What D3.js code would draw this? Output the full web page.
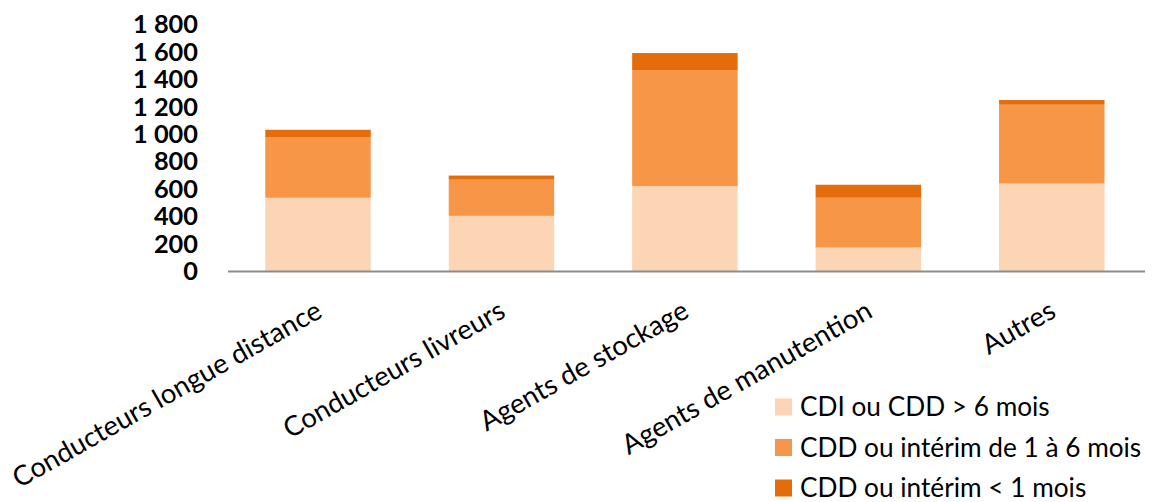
<!DOCTYPE html>
<html>
<head>
<meta charset="utf-8">
<script src="https://cdn.jsdelivr.net/npm/d3@7"></script>
<style>
  html, body { margin: 0; padding: 0; background: #ffffff; }
  svg { display: block; }
  text { font-family: Lato, "Open Sans", sans-serif; fill: #000; }
</style>
</head>
<body>
<svg id="chart" width="1155" height="502"></svg>
<script>
const categories = ["Conducteurs longue distance", "Conducteurs livreurs", "Agents de stockage", "Agents de manutention", "Autres"];
const seriesNames = ["CDI ou CDD > 6 mois", "CDD ou intérim de 1 à 6 mois", "CDD ou intérim < 1 mois"];
const cdiLong = [538, 406, 623, 175, 642];
const cddMid = [440, 264, 847, 363, 575];
const cddShort = [56, 30, 124, 95, 34];
const yTicks = [0, 200, 400, 600, 800, 1000, 1200, 1400, 1600, 1800];
const colors = ["#FCD5B5", "#F79646", "#E46C0A"];

const svg = d3.select("#chart");

const rows = categories.map((c, i) => ({ cat: c, s0: cdiLong[i], s1: cddMid[i], s2: cddShort[i] }));
const stacked = d3.stack().keys(["s0", "s1", "s2"])(rows);

const x = d3.scaleBand().domain(categories).range([226.3, 1143.5]).paddingInner(0.425).paddingOuter(0.2125);
const y = d3.scaleLinear().domain([0, 1800]).range([271.5, 24.8]);

function fitSize(text, weight, target) {
  const t = svg.append("text").attr("font-size", 100).attr("font-weight", weight).text(text);
  const w = t.node().getComputedTextLength();
  t.remove();
  return 100 * target / w;
}
const tickFs = fitSize("1 800", "bold", 65);
const legFs = (fitSize("CDI ou CDD > 6 mois", "normal", 245) + fitSize("CDD ou intérim de 1 à 6 mois", "normal", 348)) / 2;
const catFs = fitSize("Conducteurs longue distance", "normal", 350);

// bars
svg.append("g").selectAll("g").data(stacked).join("g")
  .attr("fill", (d, i) => colors[i])
  .selectAll("rect").data(d => d).join("rect")
  .attr("x", d => x(d.data.cat))
  .attr("width", x.bandwidth())
  .attr("y", d => y(d[1]))
  .attr("height", d => y(d[0]) - y(d[1]));

// y axis labels
const fmt = d3.formatLocale({ decimal: ",", thousands: " ", grouping: [3], currency: ["", "€"] }).format(",d");
const yAxis = d3.axisLeft(y).tickValues(yTicks).tickFormat(fmt).tickSize(0).tickPadding(0);
const gy = svg.append("g").attr("transform", "translate(198,0)").call(yAxis);
gy.select(".domain").remove();
gy.selectAll("text").attr("font-size", tickFs).attr("font-weight", "bold")
  .attr("font-family", "Lato, 'Open Sans', sans-serif").attr("fill", "#000");

// x axis line
const gx = svg.append("g").attr("transform", `translate(0,${y(0)})`)
  .call(d3.axisBottom(x).tickSize(0).tickFormat(""));
gx.select(".domain").attr("stroke", "#8c8c8c").attr("stroke-width", 2)
  .attr("d", "M228,0H1145");

// category labels
svg.append("g").selectAll("text").data(categories).join("text")
  .attr("transform", d => `translate(${x(d) + x.bandwidth() / 2 - 4},299) rotate(-29.5)`)
  .attr("text-anchor", "end")
  .attr("dy", "0.72em")
  .attr("font-size", catFs)
  .text(d => d);

// legend
const lg = svg.append("g").attr("transform", "translate(775,407)");
const items = lg.selectAll("g").data(seriesNames).join("g")
  .attr("transform", (d, i) => `translate(0,${i * 40.5})`);
items.append("rect").attr("x", 0).attr("y", -8.5).attr("width", 17).attr("height", 17)
  .attr("fill", (d, i) => colors[i]);
items.append("text").attr("x", 25).attr("dy", "0.36em").attr("font-size", legFs).text(d => d);
</script>
</body>
</html>
